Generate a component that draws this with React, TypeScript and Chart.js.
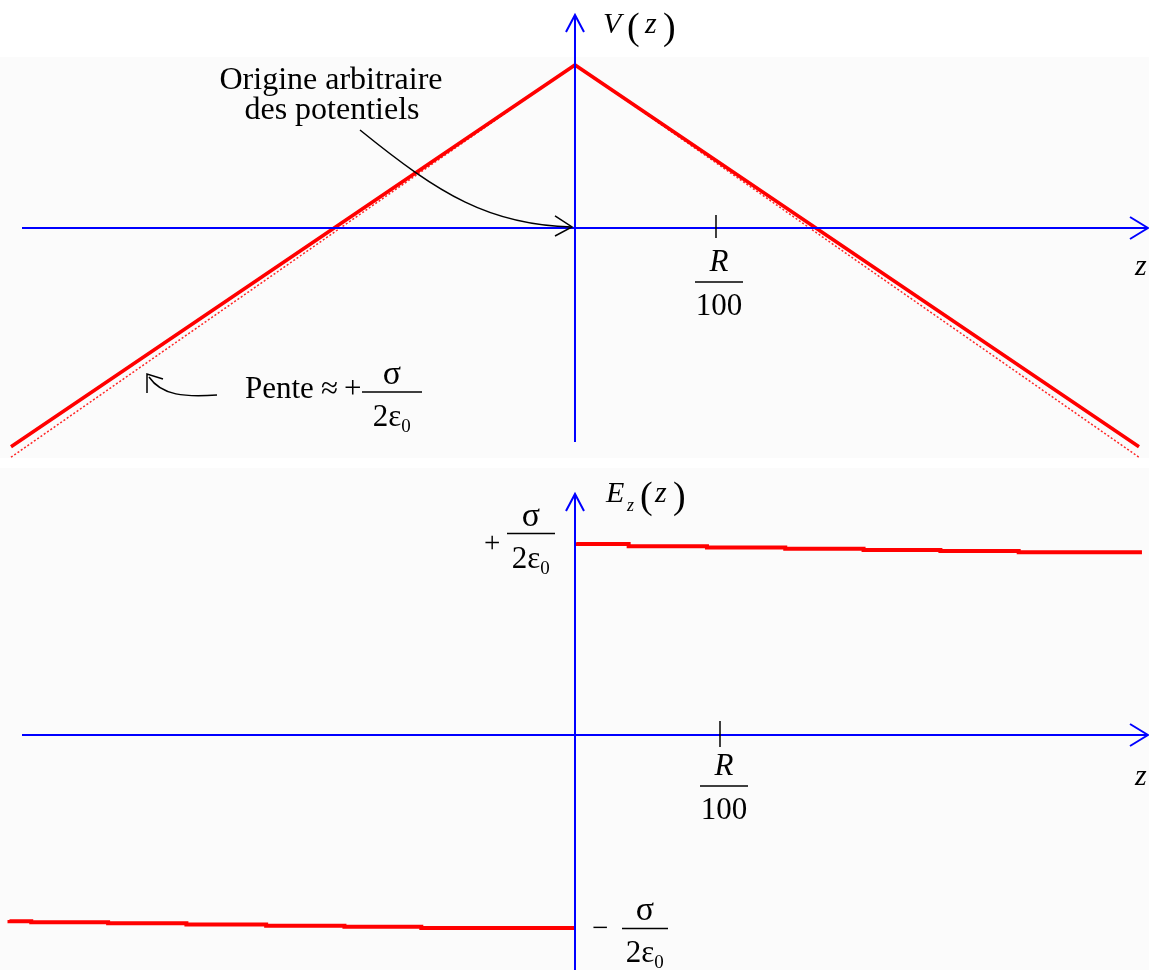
import { useEffect, useRef } from "react";
import { Chart, registerables } from "chart.js";

Chart.register(...registerables);

// z is expressed in units of R/100
const potentialZ = [-4.0, 0, 4.0];
const potentialExact = [-2.29, 1.707, -2.29];
const potentialLinear = [-2.4, 1.71, -2.4];

// E_z(z) in units of sigma/(2 eps0), plotted as a staircase
const fieldNegZ = [-3.9, -3.75, -3.22, -2.68, -2.13, -1.59, -1.06, -0.52, 0];
const fieldNeg = [-0.961, -0.968, -0.973, -0.978, -0.985, -0.991, -0.996, -1.003, -1.003];
const fieldPosZ = [0.01, 0.37, 0.91, 1.45, 1.99, 2.52, 3.06, 3.6, 3.91];
const fieldPos = [1.0, 0.992, 0.98, 0.974, 0.968, 0.961, 0.956, 0.949, 0.949];

const tickZ = 1; // R/100

const SERIF = '"Liberation Serif", "Times New Roman", serif';
const BLUE = "#0000ff";
const RED = "#ff0000";

function txt(
  ctx: CanvasRenderingContext2D,
  s: string,
  x: number,
  y: number,
  size: number,
  italic = false,
  align: CanvasTextAlign = "left"
) {
  ctx.save();
  ctx.font = `${italic ? "italic " : ""}${size}px ${SERIF}`;
  ctx.fillStyle = "#000";
  ctx.textAlign = align;
  ctx.textBaseline = "alphabetic";
  ctx.fillText(s, x, y);
  ctx.restore();
}

function line(ctx: CanvasRenderingContext2D, pts: number[][], color: string, w: number) {
  ctx.save();
  ctx.strokeStyle = color;
  ctx.lineWidth = w;
  ctx.beginPath();
  ctx.moveTo(pts[0][0], pts[0][1]);
  for (let i = 1; i < pts.length; i++) ctx.lineTo(pts[i][0], pts[i][1]);
  ctx.stroke();
  ctx.restore();
}

// sigma over 2 eps0 fraction centred on cx, bar at barY
function sigmaFrac(ctx: CanvasRenderingContext2D, cx: number, barY: number, halfBar: number) {
  txt(ctx, "σ", cx, barY - 8, 34, false, "center");
  line(ctx, [[cx - halfBar, barY], [cx + halfBar, barY]], "#000", 1.4);
  ctx.save();
  ctx.font = `31px ${SERIF}`;
  const w = ctx.measureText("2ε").width;
  ctx.restore();
  const x0 = cx - (w + 10) / 2;
  txt(ctx, "2ε", x0, barY + 34, 31);
  txt(ctx, "0", x0 + w, barY + 40, 19);
}

function rOver100(ctx: CanvasRenderingContext2D, cx: number, topY: number) {
  txt(ctx, "R", cx, topY + 16, 31, true, "center");
  line(ctx, [[cx - 24, topY + 27], [cx + 24, topY + 27]], "#000", 1.4);
  txt(ctx, "100", cx, topY + 60, 31, false, "center");
}

function hArrowAxis(ctx: CanvasRenderingContext2D, x1: number, x2: number, y: number) {
  line(ctx, [[x1, y], [x2, y]], BLUE, 2);
  line(ctx, [[x2 - 18, y - 11], [x2, y], [x2 - 18, y + 11]], BLUE, 2);
}

function vArrowAxis(ctx: CanvasRenderingContext2D, x: number, y1: number, y2: number) {
  line(ctx, [[x, y2], [x, y1]], BLUE, 2);
  line(ctx, [[x - 9, y1 + 17], [x, y1], [x + 9, y1 + 17]], BLUE, 2);
}

const topPlugin = {
  id: "potentialDecor",
  beforeDraw(chart: any) {
    const ctx = chart.ctx as CanvasRenderingContext2D;
    ctx.save();
    ctx.fillStyle = "#ffffff";
    ctx.fillRect(0, 0, chart.width, chart.height);
    ctx.fillStyle = "#fbfbfb";
    ctx.fillRect(0, 57, chart.width, chart.height - 59);
    ctx.restore();
  },
  afterDraw(chart: any) {
    const ctx = chart.ctx as CanvasRenderingContext2D;
    const xs = chart.scales.x;
    const ys = chart.scales.y;
    const x0 = xs.getPixelForValue(0);
    const y0 = ys.getPixelForValue(0);
    const xt = xs.getPixelForValue(tickZ);

    hArrowAxis(ctx, 22, 1148, y0);
    vArrowAxis(ctx, x0, 15, 442);

    // axis names
    txt(ctx, "V", x0 + 28, 33, 30, true);
    txt(ctx, "(", x0 + 52, 39, 38);
    txt(ctx, "z", x0 + 70, 33, 30, true);
    txt(ctx, ")", x0 + 88, 39, 38);
    txt(ctx, "z", 1135, 275, 30, true);

    // R/100 tick
    line(ctx, [[xt, y0 - 13], [xt, y0 + 10]], "#000", 1.5);
    rOver100(ctx, xt + 3, y0 + 27);

    // annotation: arbitrary potential origin
    txt(ctx, "Origine arbitraire", 331, 89, 32, false, "center");
    txt(ctx, "des potentiels", 332, 119, 32, false, "center");
    ctx.save();
    ctx.strokeStyle = "#000";
    ctx.lineWidth = 1.5;
    ctx.beginPath();
    ctx.moveTo(360, 130);
    ctx.bezierCurveTo(440, 195, 490, 225, x0 - 3, y0 - 1);
    ctx.stroke();
    ctx.restore();
    line(ctx, [[x0 - 20, y0 - 12], [x0 - 3, y0 - 1], [x0 - 20, y0 + 8]], "#000", 1.5);

    // annotation: slope
    txt(ctx, "Pente", 245, 398, 31);
    txt(ctx, "≈", 321, 398, 31);
    txt(ctx, "+", 344, 398, 31);
    sigmaFrac(ctx, 392, 392, 30);
    ctx.save();
    ctx.strokeStyle = "#000";
    ctx.lineWidth = 1.5;
    ctx.beginPath();
    ctx.moveTo(217, 395);
    ctx.bezierCurveTo(185, 397, 162, 396, 149, 377);
    ctx.stroke();
    ctx.restore();
    line(ctx, [[147, 393], [147, 374], [163, 379]], "#000", 1.5);
  },
};

const bottomPlugin = {
  id: "fieldDecor",
  beforeDraw(chart: any) {
    const ctx = chart.ctx as CanvasRenderingContext2D;
    ctx.save();
    ctx.fillStyle = "#ffffff";
    ctx.fillRect(0, 0, chart.width, chart.height);
    ctx.fillStyle = "#fbfbfb";
    ctx.fillRect(0, 8, chart.width, chart.height - 8);
    ctx.restore();
  },
  afterDraw(chart: any) {
    const ctx = chart.ctx as CanvasRenderingContext2D;
    const xs = chart.scales.x;
    const ys = chart.scales.y;
    const x0 = xs.getPixelForValue(0);
    const y0 = ys.getPixelForValue(0);
    const xt = xs.getPixelForValue(tickZ);
    const yPlus = ys.getPixelForValue(1);
    const yMinus = ys.getPixelForValue(-1);

    hArrowAxis(ctx, 22, 1148, y0);
    vArrowAxis(ctx, x0, 34, chart.height);

    txt(ctx, "E", x0 + 31, 42, 30, true);
    txt(ctx, "z", x0 + 52, 51, 18, true);
    txt(ctx, "(", x0 + 65, 48, 38);
    txt(ctx, "z", x0 + 80, 42, 30, true);
    txt(ctx, ")", x0 + 98, 48, 38);
    txt(ctx, "z", 1135, 325, 30, true);

    line(ctx, [[xt, y0 - 14], [xt, y0 + 12]], "#000", 1.5);
    rOver100(ctx, xt + 4, y0 + 24);

    // +sigma/2eps0 level
    txt(ctx, "+", 484, yPlus + 9, 29);
    sigmaFrac(ctx, 531, yPlus - 9, 24);

    // -sigma/2eps0 level
    txt(ctx, "−", 592, yMinus + 10, 29);
    sigmaFrac(ctx, 645, yMinus + 1, 23);
  },
};

export default function App() {
  const topRef = useRef<HTMLCanvasElement | null>(null);
  const bottomRef = useRef<HTMLCanvasElement | null>(null);

  useEffect(() => {
    const top = new Chart(topRef.current as HTMLCanvasElement, {
      type: "line",
      data: {
        datasets: [
          {
            label: "V exact",
            data: potentialZ.map((z, i) => ({ x: z, y: potentialExact[i] })),
            borderColor: RED,
            borderWidth: 3.5,
            pointRadius: 0,
            order: 0,
          },
          {
            label: "V linear",
            data: potentialZ.map((z, i) => ({ x: z, y: potentialLinear[i] })),
            borderColor: "rgba(255,0,0,0.85)",
            borderWidth: 1.5,
            borderDash: [2, 2],
            pointRadius: 0,
            order: 1,
          },
        ],
      },
      options: {
        responsive: false,
        animation: false,
        layout: { padding: 0 },
        plugins: { legend: { display: false }, tooltip: { enabled: false } },
        scales: {
          x: { type: "linear", min: -4.078, max: 4.071, display: false },
          y: { type: "linear", min: -2.429, max: 2.387, display: false },
        },
      },
      plugins: [topPlugin],
    });

    const bottom = new Chart(bottomRef.current as HTMLCanvasElement, {
      type: "line",
      data: {
        datasets: [
          {
            label: "E z<0",
            data: fieldNegZ.map((z, i) => ({ x: z, y: fieldNeg[i] })),
            borderColor: RED,
            borderWidth: 4,
            stepped: "after",
            pointRadius: 0,
          },
          {
            label: "E z>0",
            data: fieldPosZ.map((z, i) => ({ x: z, y: fieldPos[i] })),
            borderColor: RED,
            borderWidth: 4,
            stepped: "after",
            pointRadius: 0,
          },
        ],
      },
      options: {
        responsive: false,
        animation: false,
        layout: { padding: 0 },
        plugins: { legend: { display: false }, tooltip: { enabled: false } },
        scales: {
          x: { type: "linear", min: -3.9655, max: 3.9586, display: false },
          y: { type: "linear", min: -1.2208, max: 1.4286, display: false },
        },
      },
      plugins: [bottomPlugin],
    });

    return () => {
      top.destroy();
      bottom.destroy();
    };
  }, []);

  return (
    <div style={{ position: "absolute", left: 0, top: 0, width: 1149, height: 970, background: "#fff" }}>
      <canvas
        ref={topRef}
        width={1149}
        height={460}
        style={{ position: "absolute", left: 0, top: 0, width: 1149, height: 460 }}
      />
      <canvas
        ref={bottomRef}
        width={1149}
        height={510}
        style={{ position: "absolute", left: 0, top: 460, width: 1149, height: 510 }}
      />
    </div>
  );
}
